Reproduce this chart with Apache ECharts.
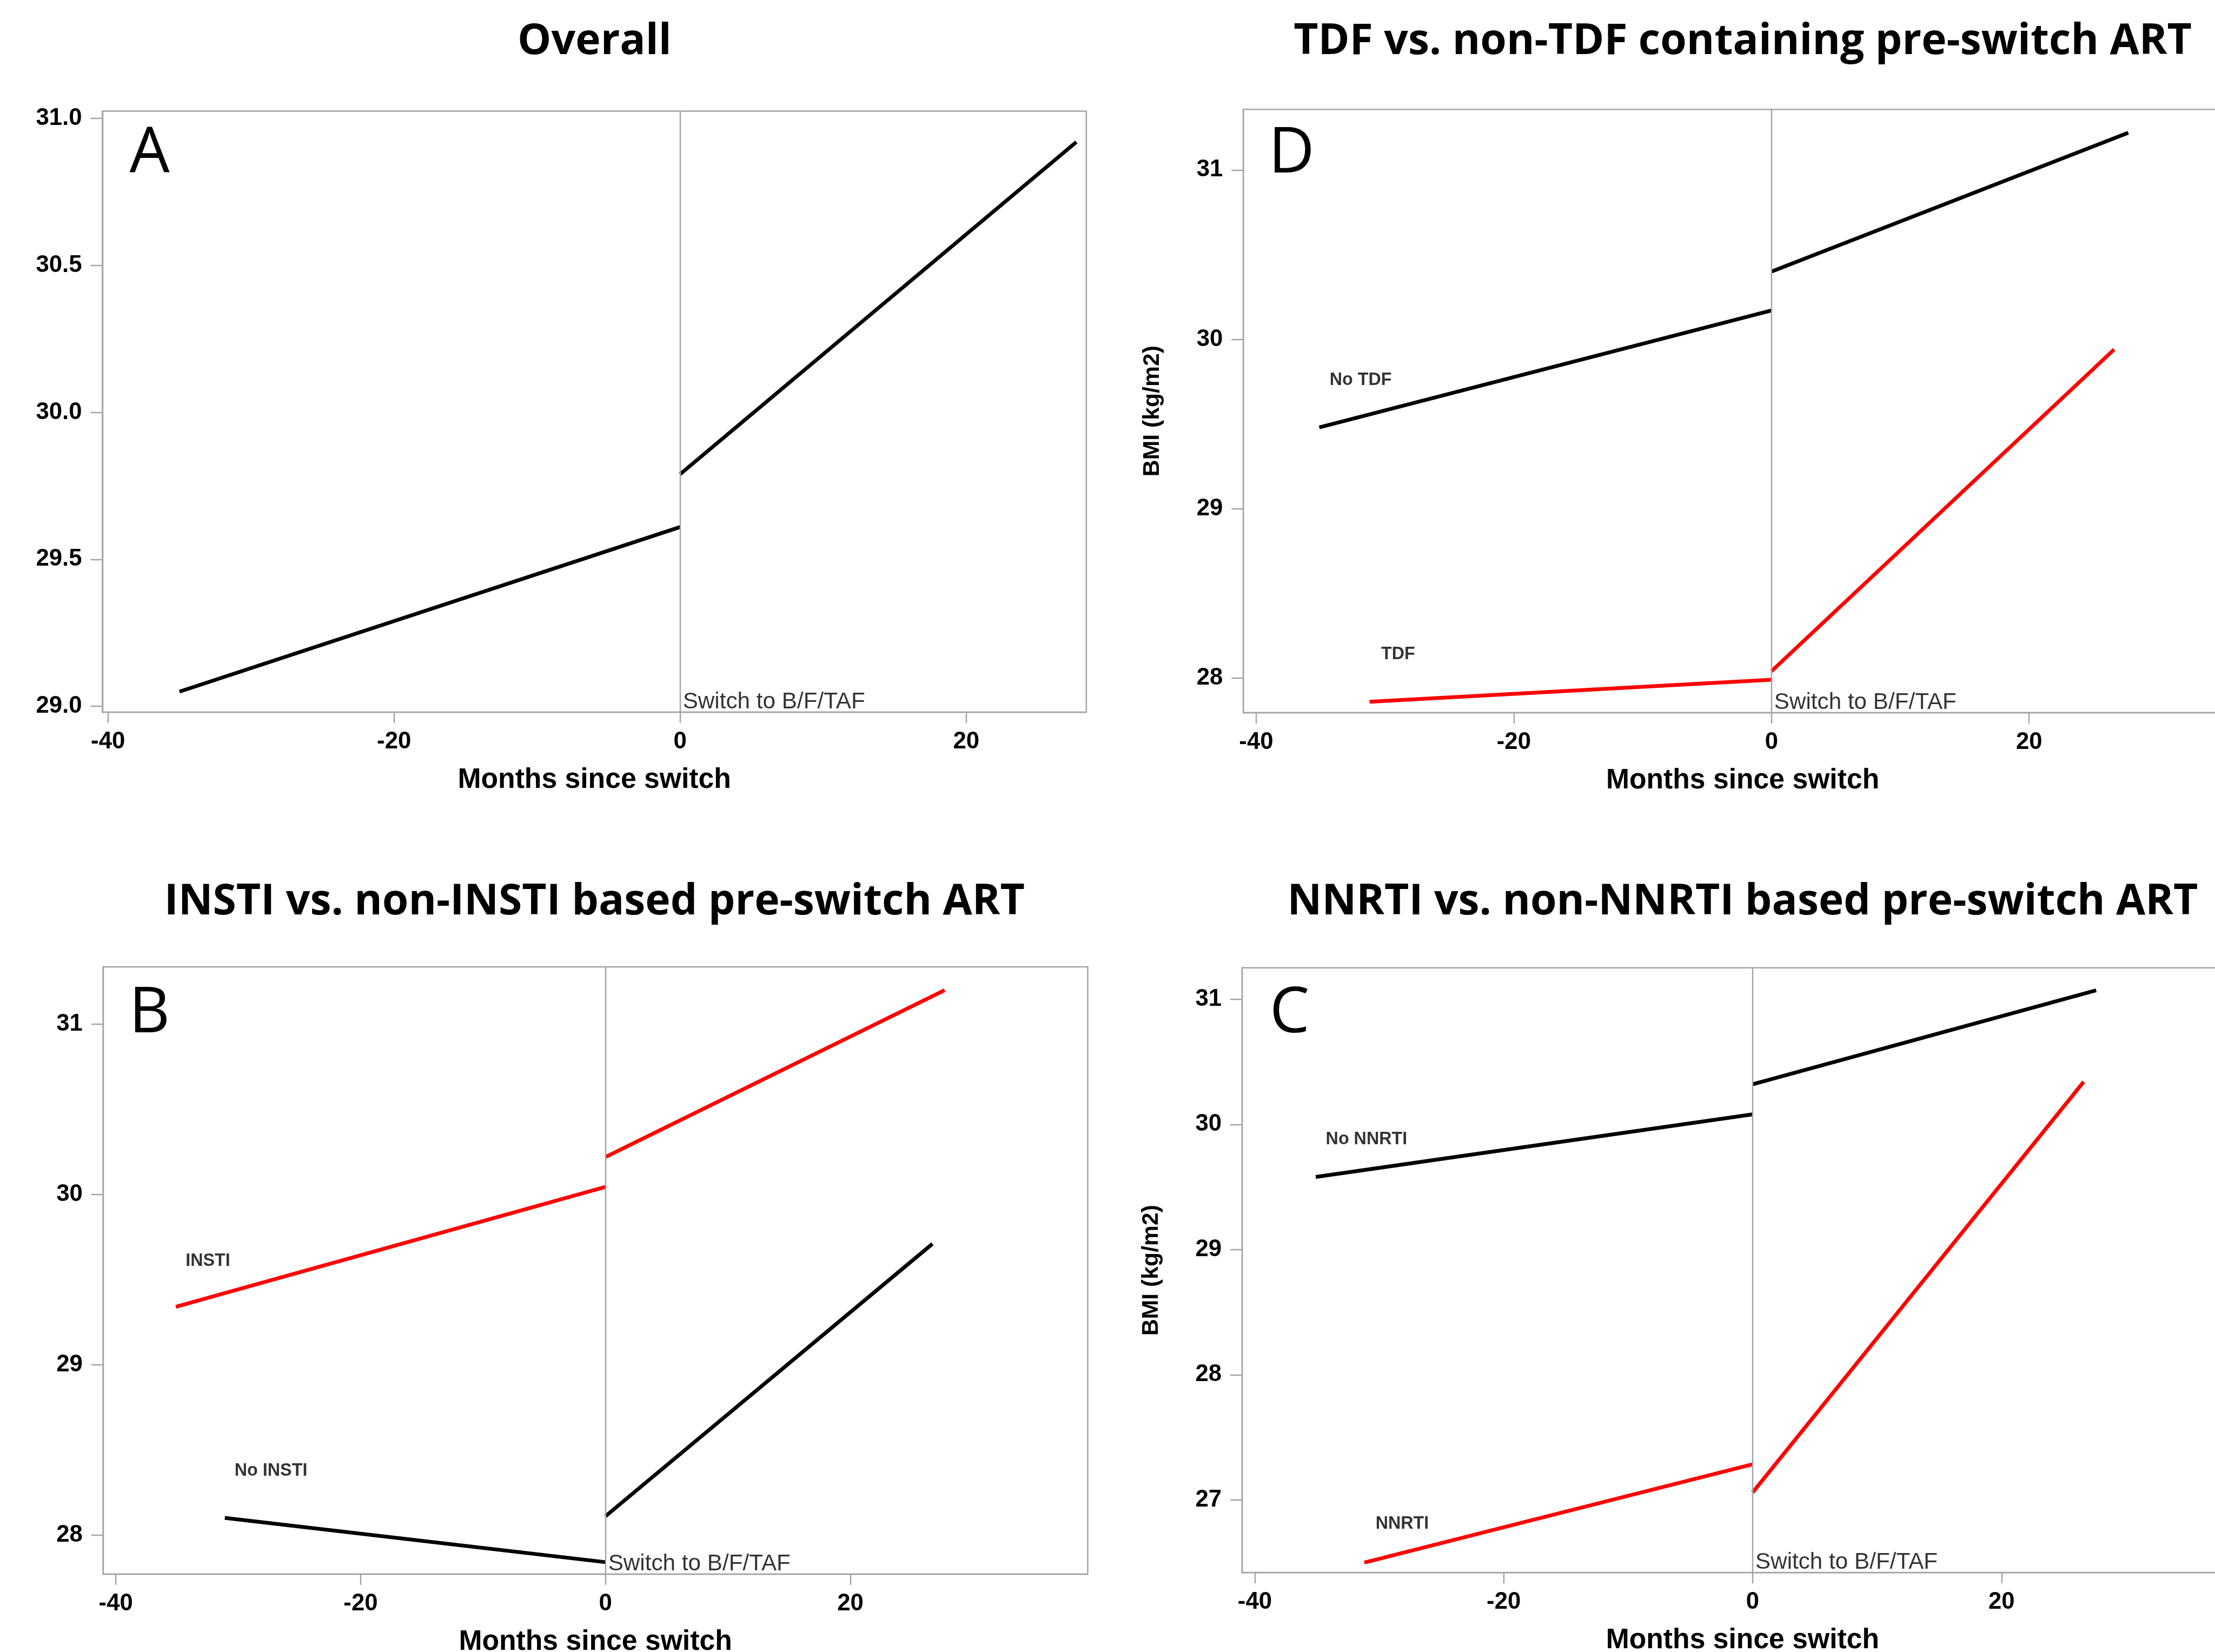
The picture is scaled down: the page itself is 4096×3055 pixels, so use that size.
<!DOCTYPE html>
<html>
<head>
<meta charset="utf-8">
<title>BMI before and after switch</title>
<script type="text/javascript" src="https://cdn.jsdelivr.net/npm/echarts@6/dist/echarts.min.js"></script>
<style>
	html, body { margin: 0; padding: 0; background: #fff; }
	#container { width: 4096px; height: 3055px; }
</style>
</head>
<body>
<div id="container"></div>
<script type="text/javascript">
// values, [months since switch, BMI]
var overallPre   = [[-35.0, 29.05], [0, 29.61]];
var overallPost  = [[0, 29.79], [27.7, 30.92]];

var noTdfPre     = [[-35.1, 29.48], [0, 30.17]];
var noTdfPost    = [[0, 30.40], [27.7, 31.22]];
var tdfPre       = [[-31.2, 27.86], [0, 27.99]];
var tdfPost      = [[0, 28.04], [26.6, 29.94]];

var instiPre     = [[-35.1, 29.34], [0, 30.045]];
var instiPost    = [[0, 30.22], [27.7, 31.20]];
var noInstiPre   = [[-31.1, 28.10], [0, 27.84]];
var noInstiPost  = [[0, 28.11], [26.7, 29.71]];

var noNnrtiPre   = [[-35.1, 29.58], [0, 30.08]];
var noNnrtiPost  = [[0, 30.32], [27.6, 31.07]];
var nnrtiPre     = [[-31.2, 26.50], [0, 27.285]];
var nnrtiPost    = [[0, 27.06], [26.6, 30.34]];

// tick labels
var monthTicks   = [-40, -20, 0, 20];
var overallTicks = [29.0, 29.5, 30.0, 30.5, 31.0];
var tdfTicks     = [28, 29, 30, 31];
var instiTicks   = [28, 29, 30, 31];
var nnrtiTicks   = [27, 28, 29, 30, 31];

// group labels, [month, BMI, text]
var tdfLabels    = [[-34.3, 29.76, 'No TDF'], [-30.3, 28.14, 'TDF']];
var instiLabels  = [[-34.3, 29.61, 'INSTI'], [-30.3, 28.375, 'No INSTI']];
var nnrtiLabels  = [[-34.3, 29.88, 'No NNRTI'], [-30.3, 26.81, 'NNRTI']];

var titles = ['Overall', 'TDF vs. non-TDF containing pre-switch ART',
	'INSTI vs. non-INSTI based pre-switch ART', 'NNRTI vs. non-NNRTI based pre-switch ART'];

var K = 0.994;   // reference pixels -> window pixels
function s(v) { return v * K; }

var GRAY = '#a0a4a8';
var RED = '#ff0000';
var BLACK = '#000000';
var SANS = '"Liberation Sans", Arial, sans-serif';
var HEAD = '"Open Sans", "Noto Sans", sans-serif';

// layout of the four panels (reference px): left, top, width, height
var panels = [
	{ box: [190.5, 206.8, 1830.5, 1118.2], x: [-40.39, 28.4], y: [28.98, 31.025], ticks: overallTicks, dec: 1, yName: '',
	  title: [1106, 78], letter: 'A', letterPos: [241, 287],
	  lines: [[overallPre, BLACK], [overallPost, BLACK]], labels: [] },
	{ box: [2313, 203.4, 1858, 1122.6], x: [-41.0, 36.53], y: [27.795, 31.358], ticks: tdfTicks, dec: 0, yName: 'BMI (kg/m2)',
	  title: [3242, 78], letter: 'D', letterPos: [2360, 287],
	  lines: [[noTdfPre, BLACK], [noTdfPost, BLACK], [tdfPre, RED], [tdfPost, RED]], labels: tdfLabels },
	{ box: [191.8, 1798.9, 1831.8, 1129.6], x: [-41.04, 39.39], y: [27.77, 31.337], ticks: instiTicks, dec: 0, yName: '',
	  title: [1106, 1679], letter: 'B', letterPos: [240, 1887],
	  lines: [[instiPre, RED], [instiPost, RED], [noInstiPre, BLACK], [noInstiPost, BLACK]], labels: instiLabels },
	{ box: [2310.8, 1800.6, 1862, 1125.2], x: [-41.02, 39.4], y: [26.42, 31.25], ticks: nnrtiTicks, dec: 0, yName: 'BMI (kg/m2)',
	  title: [3242, 1679], letter: 'C', letterPos: [2362, 1887],
	  lines: [[noNnrtiPre, BLACK], [noNnrtiPost, BLACK], [nnrtiPre, RED], [nnrtiPost, RED]], labels: nnrtiLabels }
];

var grids = [], xAxes = [], yAxes = [], series = [], graphics = [];

panels.forEach(function (p, i) {
	grids.push({
		left: s(p.box[0]), top: s(p.box[1]), width: s(p.box[2]), height: s(p.box[3]),
		show: true, borderColor: GRAY, borderWidth: s(2.5), backgroundColor: 'transparent',
		containLabel: false, outerBoundsMode: 'none'
	});
	xAxes.push({
		type: 'value', gridIndex: i, min: p.x[0], max: p.x[1],
		name: 'Months since switch', nameLocation: 'middle', nameGap: s(100),
		nameTextStyle: { fontFamily: SANS, fontWeight: 'bold', fontSize: s(52), color: BLACK },
		axisLine: { show: true, onZero: false, lineStyle: { color: GRAY, width: s(2.5) } },
		axisTick: { show: true, length: s(20), lineStyle: { color: GRAY, width: s(2.5) }, customValues: monthTicks },
		axisLabel: { fontFamily: SANS, fontWeight: 'bold', fontSize: s(44), color: BLACK, margin: s(33), customValues: monthTicks },
		splitLine: { show: false }
	});
	yAxes.push({
		type: 'value', gridIndex: i, min: p.y[0], max: p.y[1],
		name: p.yName, nameLocation: 'middle', nameGap: s(147),
		nameTextStyle: { fontFamily: SANS, fontWeight: 'bold', fontSize: s(43), color: BLACK },
		axisLine: { show: true, onZero: false, lineStyle: { color: GRAY, width: s(2.5) } },
		axisTick: { show: true, length: s(22), lineStyle: { color: GRAY, width: s(2.5) }, customValues: p.ticks },
		axisLabel: {
			fontFamily: SANS, fontWeight: 'bold', fontSize: s(44), color: BLACK, margin: s(38), customValues: p.ticks,
			formatter: (function (d) { return function (v) { return v.toFixed(d); }; })(p.dec)
		},
		splitLine: { show: false }
	});

	// switch marker line with its caption
	series.push({
		type: 'scatter', xAxisIndex: i, yAxisIndex: i, symbolSize: 0, silent: true, clip: false,
		data: [[0, p.y[0]]],
		label: {
			show: true, position: 'right', distance: s(5), offset: [0, -s(19)],
			formatter: 'Switch to B/F/TAF', fontFamily: SANS, fontSize: s(42.5), color: BLACK
		},
		markLine: {
			silent: true, symbol: ['none', 'none'], label: { show: false },
			lineStyle: { color: GRAY, width: s(2.5), type: 'solid' },
			data: [{ xAxis: 0 }]
		},
		z: 1
	});

	p.lines.forEach(function (ln) {
		series.push({
			type: 'line', xAxisIndex: i, yAxisIndex: i, data: ln[0],
			showSymbol: false, symbol: 'none', silent: true,
			lineStyle: { color: ln[1], width: s(7) }, z: 3
		});
	});

	if (p.labels.length) {
		series.push({
			type: 'scatter', xAxisIndex: i, yAxisIndex: i, symbolSize: 0, silent: true, clip: false,
			data: p.labels.map(function (l) { return { value: [l[0], l[1]], name: l[2] }; }),
			label: {
				show: true, position: 'right', distance: 0, formatter: '{b}',
				fontFamily: SANS, fontWeight: 'bold', fontSize: s(32.5), color: BLACK
			}
		});
	}

	graphics.push({
		type: 'text', x: s(p.title[0]), y: s(p.title[1]),
		style: {
			text: titles[i], font: 'bold ' + s(79) + 'px ' + HEAD, fill: BLACK,
			textAlign: 'center', align: 'center', textVerticalAlign: 'middle', verticalAlign: 'middle'
		}
	});
	graphics.push({
		type: 'text', x: s(p.letterPos[0]), y: s(p.letterPos[1]),
		style: {
			text: p.letter, font: s(118) + 'px ' + HEAD, fill: BLACK,
			textAlign: 'left', align: 'left', textVerticalAlign: 'middle', verticalAlign: 'middle'
		}
	});
});

var dom = document.getElementById('container');
var myChart = echarts.init(dom, null, { renderer: 'canvas' });
myChart.setOption({
	animation: false,
	backgroundColor: '#ffffff',
	grid: grids,
	xAxis: xAxes,
	yAxis: yAxes,
	series: series,
	graphic: { elements: graphics }
});
</script>
</body>
</html>
